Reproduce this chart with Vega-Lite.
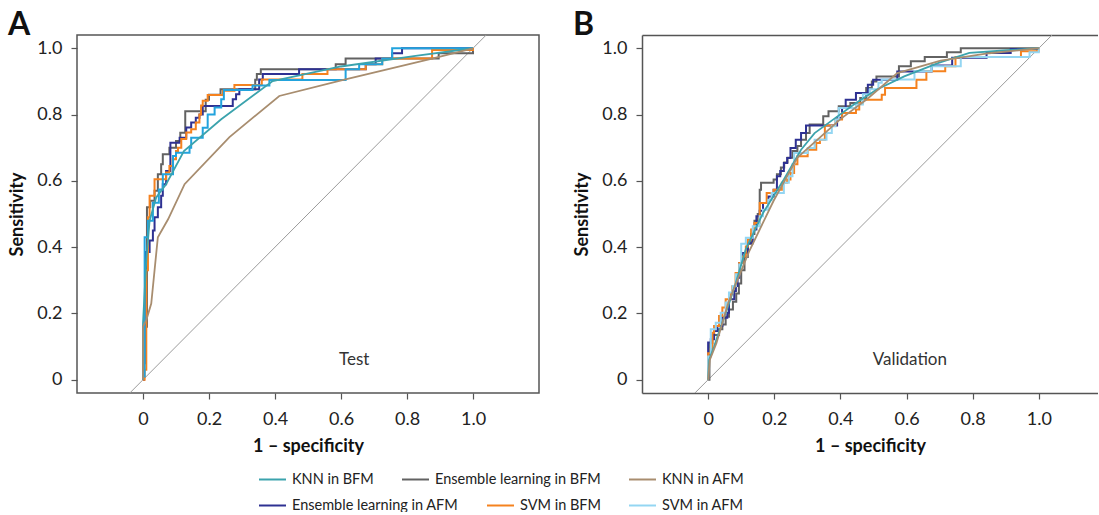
{
"$schema":"https://vega.github.io/schema/vega-lite/v6.json",
"padding":{"left":7,"right":0,"top":8,"bottom":0},
"config":{
 "font":"Lato",
 "view":{"stroke":"#555","strokeWidth":1.5},
 "axis":{"grid":false,"domain":false,"domainColor":"#555","domainWidth":1.5,"tickColor":"#555","tickSize":6,"tickWidth":1.2,"labelFont":"Lato","labelFontSize":18,"labelColor":"#222","labelPadding":9,"titleFont":"Lato","titleFontSize":18,"titleFontWeight":"bold","titleColor":"#111","titlePadding":10},
 "axisX":{"labelPadding":11,"titlePadding":9},
 "legend":{"titleFontSize":0,"symbolType":"stroke","symbolSize":729,"symbolStrokeWidth":2,"labelFont":"Lato","labelFontSize":14.5,"labelColor":"#222","labelOffset":5,"labelLimit":400,"columnPadding":24},
 "title":{"fontSize":32,"fontWeight":"bold","anchor":"start","frame":"group","color":"#111","font":"Lato","baseline":"alphabetic","offset":-7}
},
"datasets":{
 "diag":[{"x":-0.3,"y":-0.3},{"x":1.3,"y":1.3}],
 "ann":[{"p":"A","x":0.64,"y":0.06,"t":"Test"},{"p":"B","x":0.61,"y":0.06,"t":"Validation"}],
 "roc":[
{"p":"A","m":"KNN in BFM","i":0,"x":0,"y":0},
{"p":"A","m":"KNN in BFM","i":1,"x":0,"y":0.17},
{"p":"A","m":"KNN in BFM","i":2,"x":0.01,"y":0.36},
{"p":"A","m":"KNN in BFM","i":3,"x":0.02,"y":0.48},
{"p":"A","m":"KNN in BFM","i":4,"x":0.04,"y":0.55},
{"p":"A","m":"KNN in BFM","i":5,"x":0.07,"y":0.59},
{"p":"A","m":"KNN in BFM","i":6,"x":0.124,"y":0.69},
{"p":"A","m":"KNN in BFM","i":7,"x":0.237,"y":0.786},
{"p":"A","m":"KNN in BFM","i":8,"x":0.393,"y":0.901},
{"p":"A","m":"KNN in BFM","i":9,"x":0.6,"y":0.945},
{"p":"A","m":"KNN in BFM","i":10,"x":0.826,"y":0.977},
{"p":"A","m":"KNN in BFM","i":11,"x":1,"y":1},
{"p":"A","m":"Ensemble learning in BFM","i":0,"x":0,"y":0},
{"p":"A","m":"Ensemble learning in BFM","i":1,"x":0,"y":0.16},
{"p":"A","m":"Ensemble learning in BFM","i":2,"x":0.012,"y":0.52},
{"p":"A","m":"Ensemble learning in BFM","i":3,"x":0.022,"y":0.54},
{"p":"A","m":"Ensemble learning in BFM","i":4,"x":0.035,"y":0.57},
{"p":"A","m":"Ensemble learning in BFM","i":5,"x":0.045,"y":0.62},
{"p":"A","m":"Ensemble learning in BFM","i":6,"x":0.055,"y":0.65},
{"p":"A","m":"Ensemble learning in BFM","i":7,"x":0.06,"y":0.68},
{"p":"A","m":"Ensemble learning in BFM","i":8,"x":0.08,"y":0.70},
{"p":"A","m":"Ensemble learning in BFM","i":9,"x":0.1,"y":0.72},
{"p":"A","m":"Ensemble learning in BFM","i":10,"x":0.113,"y":0.745},
{"p":"A","m":"Ensemble learning in BFM","i":11,"x":0.128,"y":0.81},
{"p":"A","m":"Ensemble learning in BFM","i":12,"x":0.19,"y":0.845},
{"p":"A","m":"Ensemble learning in BFM","i":13,"x":0.2,"y":0.86},
{"p":"A","m":"Ensemble learning in BFM","i":14,"x":0.235,"y":0.876},
{"p":"A","m":"Ensemble learning in BFM","i":15,"x":0.34,"y":0.905},
{"p":"A","m":"Ensemble learning in BFM","i":16,"x":0.345,"y":0.922},
{"p":"A","m":"Ensemble learning in BFM","i":17,"x":0.357,"y":0.937},
{"p":"A","m":"Ensemble learning in BFM","i":18,"x":0.584,"y":0.952},
{"p":"A","m":"Ensemble learning in BFM","i":19,"x":0.614,"y":0.969},
{"p":"A","m":"Ensemble learning in BFM","i":20,"x":0.896,"y":0.985},
{"p":"A","m":"Ensemble learning in BFM","i":21,"x":1,"y":1},
{"p":"A","m":"KNN in AFM","i":0,"x":0,"y":0},
{"p":"A","m":"KNN in AFM","i":1,"x":0,"y":0.16},
{"p":"A","m":"KNN in AFM","i":2,"x":0.01,"y":0.18},
{"p":"A","m":"KNN in AFM","i":3,"x":0.025,"y":0.23},
{"p":"A","m":"KNN in AFM","i":4,"x":0.045,"y":0.43},
{"p":"A","m":"KNN in AFM","i":5,"x":0.076,"y":0.484},
{"p":"A","m":"KNN in AFM","i":6,"x":0.126,"y":0.59},
{"p":"A","m":"KNN in AFM","i":7,"x":0.262,"y":0.732},
{"p":"A","m":"KNN in AFM","i":8,"x":0.413,"y":0.856},
{"p":"A","m":"KNN in AFM","i":9,"x":0.604,"y":0.904},
{"p":"A","m":"KNN in AFM","i":10,"x":0.876,"y":0.969},
{"p":"A","m":"KNN in AFM","i":11,"x":1,"y":1},
{"p":"A","m":"Ensemble learning in AFM","i":0,"x":0,"y":0},
{"p":"A","m":"Ensemble learning in AFM","i":1,"x":0.003,"y":0.05},
{"p":"A","m":"Ensemble learning in AFM","i":2,"x":0.008,"y":0.385},
{"p":"A","m":"Ensemble learning in AFM","i":3,"x":0.02,"y":0.42},
{"p":"A","m":"Ensemble learning in AFM","i":4,"x":0.03,"y":0.45},
{"p":"A","m":"Ensemble learning in AFM","i":5,"x":0.035,"y":0.49},
{"p":"A","m":"Ensemble learning in AFM","i":6,"x":0.045,"y":0.52},
{"p":"A","m":"Ensemble learning in AFM","i":7,"x":0.055,"y":0.555},
{"p":"A","m":"Ensemble learning in AFM","i":8,"x":0.06,"y":0.59},
{"p":"A","m":"Ensemble learning in AFM","i":9,"x":0.07,"y":0.63},
{"p":"A","m":"Ensemble learning in AFM","i":10,"x":0.083,"y":0.715},
{"p":"A","m":"Ensemble learning in AFM","i":11,"x":0.111,"y":0.73},
{"p":"A","m":"Ensemble learning in AFM","i":12,"x":0.131,"y":0.761},
{"p":"A","m":"Ensemble learning in AFM","i":13,"x":0.146,"y":0.776},
{"p":"A","m":"Ensemble learning in AFM","i":14,"x":0.16,"y":0.79},
{"p":"A","m":"Ensemble learning in AFM","i":15,"x":0.171,"y":0.80},
{"p":"A","m":"Ensemble learning in AFM","i":16,"x":0.181,"y":0.826},
{"p":"A","m":"Ensemble learning in AFM","i":17,"x":0.272,"y":0.846},
{"p":"A","m":"Ensemble learning in AFM","i":18,"x":0.282,"y":0.861},
{"p":"A","m":"Ensemble learning in AFM","i":19,"x":0.292,"y":0.876},
{"p":"A","m":"Ensemble learning in AFM","i":20,"x":0.352,"y":0.906},
{"p":"A","m":"Ensemble learning in AFM","i":21,"x":0.363,"y":0.922},
{"p":"A","m":"Ensemble learning in AFM","i":22,"x":0.473,"y":0.937},
{"p":"A","m":"Ensemble learning in AFM","i":23,"x":0.675,"y":0.952},
{"p":"A","m":"Ensemble learning in AFM","i":24,"x":0.705,"y":0.969},
{"p":"A","m":"Ensemble learning in AFM","i":25,"x":0.755,"y":0.985},
{"p":"A","m":"Ensemble learning in AFM","i":26,"x":0.785,"y":1.0},
{"p":"A","m":"Ensemble learning in AFM","i":27,"x":1,"y":1},
{"p":"A","m":"SVM in BFM","i":0,"x":0,"y":0},
{"p":"A","m":"SVM in BFM","i":1,"x":0.005,"y":0.03},
{"p":"A","m":"SVM in BFM","i":2,"x":0.01,"y":0.33},
{"p":"A","m":"SVM in BFM","i":3,"x":0.015,"y":0.49},
{"p":"A","m":"SVM in BFM","i":4,"x":0.02,"y":0.555},
{"p":"A","m":"SVM in BFM","i":5,"x":0.035,"y":0.605},
{"p":"A","m":"SVM in BFM","i":6,"x":0.07,"y":0.625},
{"p":"A","m":"SVM in BFM","i":7,"x":0.08,"y":0.645},
{"p":"A","m":"SVM in BFM","i":8,"x":0.09,"y":0.665},
{"p":"A","m":"SVM in BFM","i":9,"x":0.1,"y":0.69},
{"p":"A","m":"SVM in BFM","i":10,"x":0.106,"y":0.70},
{"p":"A","m":"SVM in BFM","i":11,"x":0.116,"y":0.726},
{"p":"A","m":"SVM in BFM","i":12,"x":0.131,"y":0.746},
{"p":"A","m":"SVM in BFM","i":13,"x":0.146,"y":0.756},
{"p":"A","m":"SVM in BFM","i":14,"x":0.16,"y":0.776},
{"p":"A","m":"SVM in BFM","i":15,"x":0.171,"y":0.80},
{"p":"A","m":"SVM in BFM","i":16,"x":0.176,"y":0.827},
{"p":"A","m":"SVM in BFM","i":17,"x":0.181,"y":0.842},
{"p":"A","m":"SVM in BFM","i":18,"x":0.196,"y":0.859},
{"p":"A","m":"SVM in BFM","i":19,"x":0.242,"y":0.872},
{"p":"A","m":"SVM in BFM","i":20,"x":0.277,"y":0.889},
{"p":"A","m":"SVM in BFM","i":21,"x":0.36,"y":0.906},
{"p":"A","m":"SVM in BFM","i":22,"x":0.483,"y":0.922},
{"p":"A","m":"SVM in BFM","i":23,"x":0.559,"y":0.937},
{"p":"A","m":"SVM in BFM","i":24,"x":0.675,"y":0.952},
{"p":"A","m":"SVM in BFM","i":25,"x":0.725,"y":0.969},
{"p":"A","m":"SVM in BFM","i":26,"x":0.876,"y":0.995},
{"p":"A","m":"SVM in BFM","i":27,"x":1,"y":1},
{"p":"A","m":"SVM in AFM","i":0,"x":0,"y":0},
{"p":"A","m":"SVM in AFM","i":1,"x":0,"y":0.01},
{"p":"A","m":"SVM in AFM","i":2,"x":0.005,"y":0.43},
{"p":"A","m":"SVM in AFM","i":3,"x":0.015,"y":0.48},
{"p":"A","m":"SVM in AFM","i":4,"x":0.03,"y":0.534},
{"p":"A","m":"SVM in AFM","i":5,"x":0.048,"y":0.574},
{"p":"A","m":"SVM in AFM","i":6,"x":0.06,"y":0.62},
{"p":"A","m":"SVM in AFM","i":7,"x":0.091,"y":0.675},
{"p":"A","m":"SVM in AFM","i":8,"x":0.1,"y":0.685},
{"p":"A","m":"SVM in AFM","i":9,"x":0.141,"y":0.70},
{"p":"A","m":"SVM in AFM","i":10,"x":0.146,"y":0.73},
{"p":"A","m":"SVM in AFM","i":11,"x":0.181,"y":0.76},
{"p":"A","m":"SVM in AFM","i":12,"x":0.196,"y":0.80},
{"p":"A","m":"SVM in AFM","i":13,"x":0.217,"y":0.821},
{"p":"A","m":"SVM in AFM","i":14,"x":0.237,"y":0.846},
{"p":"A","m":"SVM in AFM","i":15,"x":0.245,"y":0.874},
{"p":"A","m":"SVM in AFM","i":16,"x":0.332,"y":0.888},
{"p":"A","m":"SVM in AFM","i":17,"x":0.383,"y":0.904},
{"p":"A","m":"SVM in AFM","i":18,"x":0.614,"y":0.937},
{"p":"A","m":"SVM in AFM","i":19,"x":0.655,"y":0.952},
{"p":"A","m":"SVM in AFM","i":20,"x":0.725,"y":0.969},
{"p":"A","m":"SVM in AFM","i":21,"x":0.755,"y":1.0},
{"p":"A","m":"SVM in AFM","i":22,"x":1,"y":1},
{"p":"B","m":"KNN in BFM","i":0,"x":0,"y":0},
{"p":"B","m":"KNN in BFM","i":1,"x":0.003,"y":0.06},
{"p":"B","m":"KNN in BFM","i":2,"x":0.018,"y":0.10},
{"p":"B","m":"KNN in BFM","i":3,"x":0.038,"y":0.16},
{"p":"B","m":"KNN in BFM","i":4,"x":0.059,"y":0.217},
{"p":"B","m":"KNN in BFM","i":5,"x":0.084,"y":0.293},
{"p":"B","m":"KNN in BFM","i":6,"x":0.114,"y":0.394},
{"p":"B","m":"KNN in BFM","i":7,"x":0.166,"y":0.503},
{"p":"B","m":"KNN in BFM","i":8,"x":0.229,"y":0.604},
{"p":"B","m":"KNN in BFM","i":9,"x":0.281,"y":0.694},
{"p":"B","m":"KNN in BFM","i":10,"x":0.322,"y":0.744},
{"p":"B","m":"KNN in BFM","i":11,"x":0.385,"y":0.79},
{"p":"B","m":"KNN in BFM","i":12,"x":0.447,"y":0.835},
{"p":"B","m":"KNN in BFM","i":13,"x":0.509,"y":0.875},
{"p":"B","m":"KNN in BFM","i":14,"x":0.593,"y":0.915},
{"p":"B","m":"KNN in BFM","i":15,"x":0.697,"y":0.956},
{"p":"B","m":"KNN in BFM","i":16,"x":0.79,"y":0.986},
{"p":"B","m":"KNN in BFM","i":17,"x":0.905,"y":0.994},
{"p":"B","m":"KNN in BFM","i":18,"x":1,"y":1},
{"p":"B","m":"Ensemble learning in BFM","i":0,"x":0,"y":0},
{"p":"B","m":"Ensemble learning in BFM","i":1,"x":0.004,"y":0.11},
{"p":"B","m":"Ensemble learning in BFM","i":2,"x":0.013,"y":0.135},
{"p":"B","m":"Ensemble learning in BFM","i":3,"x":0.033,"y":0.152},
{"p":"B","m":"Ensemble learning in BFM","i":4,"x":0.043,"y":0.167},
{"p":"B","m":"Ensemble learning in BFM","i":5,"x":0.053,"y":0.19},
{"p":"B","m":"Ensemble learning in BFM","i":6,"x":0.063,"y":0.212},
{"p":"B","m":"Ensemble learning in BFM","i":7,"x":0.075,"y":0.235},
{"p":"B","m":"Ensemble learning in BFM","i":8,"x":0.085,"y":0.26},
{"p":"B","m":"Ensemble learning in BFM","i":9,"x":0.093,"y":0.29},
{"p":"B","m":"Ensemble learning in BFM","i":10,"x":0.1,"y":0.33},
{"p":"B","m":"Ensemble learning in BFM","i":11,"x":0.11,"y":0.37},
{"p":"B","m":"Ensemble learning in BFM","i":12,"x":0.12,"y":0.41},
{"p":"B","m":"Ensemble learning in BFM","i":13,"x":0.13,"y":0.44},
{"p":"B","m":"Ensemble learning in BFM","i":14,"x":0.14,"y":0.48},
{"p":"B","m":"Ensemble learning in BFM","i":15,"x":0.15,"y":0.5},
{"p":"B","m":"Ensemble learning in BFM","i":16,"x":0.156,"y":0.573},
{"p":"B","m":"Ensemble learning in BFM","i":17,"x":0.16,"y":0.594},
{"p":"B","m":"Ensemble learning in BFM","i":18,"x":0.198,"y":0.604},
{"p":"B","m":"Ensemble learning in BFM","i":19,"x":0.208,"y":0.62},
{"p":"B","m":"Ensemble learning in BFM","i":20,"x":0.22,"y":0.64},
{"p":"B","m":"Ensemble learning in BFM","i":21,"x":0.23,"y":0.655},
{"p":"B","m":"Ensemble learning in BFM","i":22,"x":0.24,"y":0.67},
{"p":"B","m":"Ensemble learning in BFM","i":23,"x":0.255,"y":0.69},
{"p":"B","m":"Ensemble learning in BFM","i":24,"x":0.27,"y":0.705},
{"p":"B","m":"Ensemble learning in BFM","i":25,"x":0.281,"y":0.724},
{"p":"B","m":"Ensemble learning in BFM","i":26,"x":0.296,"y":0.744},
{"p":"B","m":"Ensemble learning in BFM","i":27,"x":0.307,"y":0.77},
{"p":"B","m":"Ensemble learning in BFM","i":28,"x":0.348,"y":0.795},
{"p":"B","m":"Ensemble learning in BFM","i":29,"x":0.364,"y":0.81},
{"p":"B","m":"Ensemble learning in BFM","i":30,"x":0.395,"y":0.825},
{"p":"B","m":"Ensemble learning in BFM","i":31,"x":0.43,"y":0.835},
{"p":"B","m":"Ensemble learning in BFM","i":32,"x":0.46,"y":0.85},
{"p":"B","m":"Ensemble learning in BFM","i":33,"x":0.478,"y":0.88},
{"p":"B","m":"Ensemble learning in BFM","i":34,"x":0.495,"y":0.9},
{"p":"B","m":"Ensemble learning in BFM","i":35,"x":0.509,"y":0.915},
{"p":"B","m":"Ensemble learning in BFM","i":36,"x":0.577,"y":0.946},
{"p":"B","m":"Ensemble learning in BFM","i":37,"x":0.613,"y":0.961},
{"p":"B","m":"Ensemble learning in BFM","i":38,"x":0.655,"y":0.974},
{"p":"B","m":"Ensemble learning in BFM","i":39,"x":0.722,"y":0.988},
{"p":"B","m":"Ensemble learning in BFM","i":40,"x":0.764,"y":1.0},
{"p":"B","m":"Ensemble learning in BFM","i":41,"x":1,"y":1},
{"p":"B","m":"KNN in AFM","i":0,"x":0,"y":0},
{"p":"B","m":"KNN in AFM","i":1,"x":0.005,"y":0.06},
{"p":"B","m":"KNN in AFM","i":2,"x":0.025,"y":0.11},
{"p":"B","m":"KNN in AFM","i":3,"x":0.062,"y":0.235},
{"p":"B","m":"KNN in AFM","i":4,"x":0.123,"y":0.385},
{"p":"B","m":"KNN in AFM","i":5,"x":0.198,"y":0.54},
{"p":"B","m":"KNN in AFM","i":6,"x":0.27,"y":0.67},
{"p":"B","m":"KNN in AFM","i":7,"x":0.401,"y":0.787},
{"p":"B","m":"KNN in AFM","i":8,"x":0.481,"y":0.847},
{"p":"B","m":"KNN in AFM","i":9,"x":0.572,"y":0.925},
{"p":"B","m":"KNN in AFM","i":10,"x":0.703,"y":0.963},
{"p":"B","m":"KNN in AFM","i":11,"x":0.85,"y":0.985},
{"p":"B","m":"KNN in AFM","i":12,"x":1,"y":1},
{"p":"B","m":"Ensemble learning in AFM","i":0,"x":0,"y":0},
{"p":"B","m":"Ensemble learning in AFM","i":1,"x":0,"y":0.112},
{"p":"B","m":"Ensemble learning in AFM","i":2,"x":0.008,"y":0.122},
{"p":"B","m":"Ensemble learning in AFM","i":3,"x":0.018,"y":0.147},
{"p":"B","m":"Ensemble learning in AFM","i":4,"x":0.028,"y":0.162},
{"p":"B","m":"Ensemble learning in AFM","i":5,"x":0.043,"y":0.187},
{"p":"B","m":"Ensemble learning in AFM","i":6,"x":0.058,"y":0.202},
{"p":"B","m":"Ensemble learning in AFM","i":7,"x":0.063,"y":0.243},
{"p":"B","m":"Ensemble learning in AFM","i":8,"x":0.079,"y":0.268},
{"p":"B","m":"Ensemble learning in AFM","i":9,"x":0.084,"y":0.283},
{"p":"B","m":"Ensemble learning in AFM","i":10,"x":0.089,"y":0.308},
{"p":"B","m":"Ensemble learning in AFM","i":11,"x":0.094,"y":0.352},
{"p":"B","m":"Ensemble learning in AFM","i":12,"x":0.104,"y":0.382},
{"p":"B","m":"Ensemble learning in AFM","i":13,"x":0.12,"y":0.412},
{"p":"B","m":"Ensemble learning in AFM","i":14,"x":0.135,"y":0.453},
{"p":"B","m":"Ensemble learning in AFM","i":15,"x":0.146,"y":0.493},
{"p":"B","m":"Ensemble learning in AFM","i":16,"x":0.156,"y":0.51},
{"p":"B","m":"Ensemble learning in AFM","i":17,"x":0.166,"y":0.533},
{"p":"B","m":"Ensemble learning in AFM","i":18,"x":0.182,"y":0.553},
{"p":"B","m":"Ensemble learning in AFM","i":19,"x":0.198,"y":0.573},
{"p":"B","m":"Ensemble learning in AFM","i":20,"x":0.208,"y":0.614},
{"p":"B","m":"Ensemble learning in AFM","i":21,"x":0.218,"y":0.63},
{"p":"B","m":"Ensemble learning in AFM","i":22,"x":0.229,"y":0.654},
{"p":"B","m":"Ensemble learning in AFM","i":23,"x":0.239,"y":0.669},
{"p":"B","m":"Ensemble learning in AFM","i":24,"x":0.249,"y":0.699},
{"p":"B","m":"Ensemble learning in AFM","i":25,"x":0.265,"y":0.724},
{"p":"B","m":"Ensemble learning in AFM","i":26,"x":0.281,"y":0.744},
{"p":"B","m":"Ensemble learning in AFM","i":27,"x":0.296,"y":0.767},
{"p":"B","m":"Ensemble learning in AFM","i":28,"x":0.39,"y":0.79},
{"p":"B","m":"Ensemble learning in AFM","i":29,"x":0.405,"y":0.82},
{"p":"B","m":"Ensemble learning in AFM","i":30,"x":0.416,"y":0.845},
{"p":"B","m":"Ensemble learning in AFM","i":31,"x":0.447,"y":0.865},
{"p":"B","m":"Ensemble learning in AFM","i":32,"x":0.483,"y":0.89},
{"p":"B","m":"Ensemble learning in AFM","i":33,"x":0.499,"y":0.905},
{"p":"B","m":"Ensemble learning in AFM","i":34,"x":0.572,"y":0.93},
{"p":"B","m":"Ensemble learning in AFM","i":35,"x":0.676,"y":0.948},
{"p":"B","m":"Ensemble learning in AFM","i":36,"x":0.738,"y":0.971},
{"p":"B","m":"Ensemble learning in AFM","i":37,"x":0.842,"y":0.986},
{"p":"B","m":"Ensemble learning in AFM","i":38,"x":0.915,"y":0.998},
{"p":"B","m":"Ensemble learning in AFM","i":39,"x":1,"y":1},
{"p":"B","m":"SVM in BFM","i":0,"x":0,"y":0},
{"p":"B","m":"SVM in BFM","i":1,"x":0,"y":0.08},
{"p":"B","m":"SVM in BFM","i":2,"x":0.008,"y":0.092},
{"p":"B","m":"SVM in BFM","i":3,"x":0.013,"y":0.142},
{"p":"B","m":"SVM in BFM","i":4,"x":0.018,"y":0.162},
{"p":"B","m":"SVM in BFM","i":5,"x":0.033,"y":0.192},
{"p":"B","m":"SVM in BFM","i":6,"x":0.043,"y":0.218},
{"p":"B","m":"SVM in BFM","i":7,"x":0.053,"y":0.243},
{"p":"B","m":"SVM in BFM","i":8,"x":0.068,"y":0.26},
{"p":"B","m":"SVM in BFM","i":9,"x":0.073,"y":0.282},
{"p":"B","m":"SVM in BFM","i":10,"x":0.083,"y":0.322},
{"p":"B","m":"SVM in BFM","i":11,"x":0.094,"y":0.352},
{"p":"B","m":"SVM in BFM","i":12,"x":0.104,"y":0.372},
{"p":"B","m":"SVM in BFM","i":13,"x":0.114,"y":0.402},
{"p":"B","m":"SVM in BFM","i":14,"x":0.12,"y":0.423},
{"p":"B","m":"SVM in BFM","i":15,"x":0.13,"y":0.453},
{"p":"B","m":"SVM in BFM","i":16,"x":0.14,"y":0.473},
{"p":"B","m":"SVM in BFM","i":17,"x":0.156,"y":0.533},
{"p":"B","m":"SVM in BFM","i":18,"x":0.177,"y":0.563},
{"p":"B","m":"SVM in BFM","i":19,"x":0.198,"y":0.573},
{"p":"B","m":"SVM in BFM","i":20,"x":0.223,"y":0.594},
{"p":"B","m":"SVM in BFM","i":21,"x":0.239,"y":0.604},
{"p":"B","m":"SVM in BFM","i":22,"x":0.249,"y":0.624},
{"p":"B","m":"SVM in BFM","i":23,"x":0.26,"y":0.65},
{"p":"B","m":"SVM in BFM","i":24,"x":0.27,"y":0.674},
{"p":"B","m":"SVM in BFM","i":25,"x":0.301,"y":0.694},
{"p":"B","m":"SVM in BFM","i":26,"x":0.327,"y":0.714},
{"p":"B","m":"SVM in BFM","i":27,"x":0.338,"y":0.724},
{"p":"B","m":"SVM in BFM","i":28,"x":0.353,"y":0.767},
{"p":"B","m":"SVM in BFM","i":29,"x":0.385,"y":0.785},
{"p":"B","m":"SVM in BFM","i":30,"x":0.405,"y":0.805},
{"p":"B","m":"SVM in BFM","i":31,"x":0.447,"y":0.815},
{"p":"B","m":"SVM in BFM","i":32,"x":0.457,"y":0.835},
{"p":"B","m":"SVM in BFM","i":33,"x":0.468,"y":0.845},
{"p":"B","m":"SVM in BFM","i":34,"x":0.525,"y":0.86},
{"p":"B","m":"SVM in BFM","i":35,"x":0.535,"y":0.88},
{"p":"B","m":"SVM in BFM","i":36,"x":0.63,"y":0.905},
{"p":"B","m":"SVM in BFM","i":37,"x":0.66,"y":0.931},
{"p":"B","m":"SVM in BFM","i":38,"x":0.717,"y":0.946},
{"p":"B","m":"SVM in BFM","i":39,"x":0.748,"y":0.974},
{"p":"B","m":"SVM in BFM","i":40,"x":0.946,"y":0.991},
{"p":"B","m":"SVM in BFM","i":41,"x":1,"y":1},
{"p":"B","m":"SVM in AFM","i":0,"x":0,"y":0},
{"p":"B","m":"SVM in AFM","i":1,"x":0,"y":0.07},
{"p":"B","m":"SVM in AFM","i":2,"x":0.008,"y":0.152},
{"p":"B","m":"SVM in AFM","i":3,"x":0.023,"y":0.172},
{"p":"B","m":"SVM in AFM","i":4,"x":0.038,"y":0.202},
{"p":"B","m":"SVM in AFM","i":5,"x":0.053,"y":0.233},
{"p":"B","m":"SVM in AFM","i":6,"x":0.063,"y":0.263},
{"p":"B","m":"SVM in AFM","i":7,"x":0.074,"y":0.283},
{"p":"B","m":"SVM in AFM","i":8,"x":0.084,"y":0.318},
{"p":"B","m":"SVM in AFM","i":9,"x":0.094,"y":0.348},
{"p":"B","m":"SVM in AFM","i":10,"x":0.1,"y":0.41},
{"p":"B","m":"SVM in AFM","i":11,"x":0.114,"y":0.428},
{"p":"B","m":"SVM in AFM","i":12,"x":0.135,"y":0.463},
{"p":"B","m":"SVM in AFM","i":13,"x":0.156,"y":0.493},
{"p":"B","m":"SVM in AFM","i":14,"x":0.166,"y":0.513},
{"p":"B","m":"SVM in AFM","i":15,"x":0.182,"y":0.543},
{"p":"B","m":"SVM in AFM","i":16,"x":0.192,"y":0.563},
{"p":"B","m":"SVM in AFM","i":17,"x":0.229,"y":0.594},
{"p":"B","m":"SVM in AFM","i":18,"x":0.244,"y":0.614},
{"p":"B","m":"SVM in AFM","i":19,"x":0.255,"y":0.65},
{"p":"B","m":"SVM in AFM","i":20,"x":0.26,"y":0.684},
{"p":"B","m":"SVM in AFM","i":21,"x":0.301,"y":0.699},
{"p":"B","m":"SVM in AFM","i":22,"x":0.322,"y":0.724},
{"p":"B","m":"SVM in AFM","i":23,"x":0.358,"y":0.744},
{"p":"B","m":"SVM in AFM","i":24,"x":0.374,"y":0.765},
{"p":"B","m":"SVM in AFM","i":25,"x":0.385,"y":0.785},
{"p":"B","m":"SVM in AFM","i":26,"x":0.395,"y":0.82},
{"p":"B","m":"SVM in AFM","i":27,"x":0.447,"y":0.83},
{"p":"B","m":"SVM in AFM","i":28,"x":0.468,"y":0.861},
{"p":"B","m":"SVM in AFM","i":29,"x":0.489,"y":0.876},
{"p":"B","m":"SVM in AFM","i":30,"x":0.515,"y":0.896},
{"p":"B","m":"SVM in AFM","i":31,"x":0.525,"y":0.906},
{"p":"B","m":"SVM in AFM","i":32,"x":0.624,"y":0.931},
{"p":"B","m":"SVM in AFM","i":33,"x":0.676,"y":0.946},
{"p":"B","m":"SVM in AFM","i":34,"x":0.764,"y":0.974},
{"p":"B","m":"SVM in AFM","i":35,"x":0.972,"y":0.988},
{"p":"B","m":"SVM in AFM","i":36,"x":1,"y":1}
 ]
},
"bounds":"flush",
"spacing":103,
"resolve":{"scale":{"color":"independent"}},
"hconcat":[
 {
  "width":462,"height":358,
  "title":{"text":"A","dx":-69},
  "encoding":{
   "x":{"field":"x","type":"quantitative","scale":{"domain":[-0.2,1.2],"nice":false,"zero":false},
    "axis":{"values":[0,0.2,0.4,0.6,0.8,1],"labelExpr":"datum.value==0?'0':format(datum.value,'.1f')","title":"1 – specificity"}},
   "y":{"field":"y","type":"quantitative","scale":{"domain":[-0.04,1.04],"nice":false,"zero":false},
    "axis":{"values":[0,0.2,0.4,0.6,0.8,1],"labelExpr":"datum.value==0?'0':format(datum.value,'.1f')","title":"Sensitivity"}}
  },
  "layer":[
   {"data":{"name":"diag"},"mark":{"type":"line","color":"#9b9b9b","strokeWidth":1,"clip":true}},
   {"data":{"name":"roc"},"transform":[{"filter":"datum.p=='A' && indexof(datum.m,'KNN')!=0"}],
    "mark":{"type":"line","interpolate":"step-after","strokeWidth":2,"clip":true},
    "encoding":{
     "order":{"field":"i","type":"quantitative"},
     "color":{"field":"m","type":"nominal","scale":{"domain":["KNN in BFM","Ensemble learning in BFM","KNN in AFM","Ensemble learning in AFM","SVM in BFM","SVM in AFM"],"range":["#3ba3ad","#626262","#a88d6f","#2e3192","#f5821f","#22a3dd"]},
      "legend":{"orient":"none","direction":"horizontal","legendX":181,"legendY":430,"title":null,"values":["KNN in BFM","Ensemble learning in BFM","KNN in AFM"]}}}},
   {"data":{"name":"roc"},"transform":[{"filter":"datum.p=='A' && indexof(datum.m,'KNN')==0"}],
    "mark":{"type":"line","strokeWidth":1.8,"clip":true},
    "encoding":{
     "order":{"field":"i","type":"quantitative"},
     "color":{"field":"m","type":"nominal","scale":{"domain":["KNN in BFM","Ensemble learning in BFM","KNN in AFM","Ensemble learning in AFM","SVM in BFM","SVM in AFM"],"range":["#3ba3ad","#626262","#a88d6f","#2e3192","#f5821f","#22a3dd"]},
      "legend":{"orient":"none","direction":"horizontal","legendX":181,"legendY":430,"title":null,"values":["KNN in BFM","Ensemble learning in BFM","KNN in AFM"]}}}},
   {"data":{"name":"ann"},"transform":[{"filter":"datum.p=='A'"}],
    "mark":{"type":"text","fontSize":17,"color":"#333","font":"Lato","baseline":"middle","align":"center"},
    "encoding":{"text":{"field":"t"}}}
  ]
 },
 {
  "width":456,"height":358,
  "view":{"stroke":null},
  "title":{"text":"B","dx":-69},
  "resolve":{"axis":{"x":"independent"}},
  "encoding":{
   "y":{"field":"y","type":"quantitative","scale":{"domain":[-0.04,1.04],"nice":false,"zero":false},
    "axis":{"domain":true,"values":[0,0.2,0.4,0.6,0.8,1],"labelExpr":"datum.value==0?'0':format(datum.value,'.1f')","title":"Sensitivity"}}
  },
  "layer":[
   {"data":{"name":"diag"},"mark":{"type":"line","color":"#9b9b9b","strokeWidth":1,"clip":true},
    "encoding":{
     "x":{"field":"x","type":"quantitative","scale":{"domain":[-0.2,1.179],"nice":false,"zero":false},
      "axis":{"domain":true,"values":[0,0.2,0.4,0.6,0.8,1],"labelExpr":"datum.value==0?'0':format(datum.value,'.1f')","title":"1 – specificity"}}}},
   {"data":{"name":"roc"},"transform":[{"filter":"datum.p=='B' && indexof(datum.m,'KNN')!=0"}],
    "mark":{"type":"line","interpolate":"step-after","strokeWidth":2,"clip":true},
    "encoding":{
     "x":{"field":"x","type":"quantitative","axis":null},
     "order":{"field":"i","type":"quantitative"},
     "color":{"field":"m","type":"nominal","scale":{"domain":["KNN in BFM","Ensemble learning in BFM","KNN in AFM","Ensemble learning in AFM","SVM in BFM","SVM in AFM"],"range":["#3ba3ad","#626262","#a88d6f","#2e3192","#f5821f","#94d6f2"]},
      "legend":{"orient":"none","direction":"horizontal","legendX":-384,"legendY":456,"title":null,"values":["Ensemble learning in AFM","SVM in BFM","SVM in AFM"]}}}},
   {"data":{"name":"roc"},"transform":[{"filter":"datum.p=='B' && indexof(datum.m,'KNN')==0"}],
    "mark":{"type":"line","strokeWidth":1.8,"clip":true},
    "encoding":{
     "x":{"field":"x","type":"quantitative","axis":null},
     "order":{"field":"i","type":"quantitative"},
     "color":{"field":"m","type":"nominal","scale":{"domain":["KNN in BFM","Ensemble learning in BFM","KNN in AFM","Ensemble learning in AFM","SVM in BFM","SVM in AFM"],"range":["#3ba3ad","#626262","#a88d6f","#2e3192","#f5821f","#94d6f2"]},
      "legend":{"orient":"none","direction":"horizontal","legendX":-384,"legendY":456,"title":null,"values":["Ensemble learning in AFM","SVM in BFM","SVM in AFM"]}}}},
   {"data":{"name":"ann"},"transform":[{"filter":"datum.p=='B'"}],
    "mark":{"type":"text","fontSize":17,"color":"#333","font":"Lato","baseline":"middle","align":"center"},
    "encoding":{
     "x":{"field":"x","type":"quantitative","axis":{"orient":"top","domain":true,"ticks":false,"labels":false,"title":null}},
     "text":{"field":"t"}}}
  ]
 }
]
}
